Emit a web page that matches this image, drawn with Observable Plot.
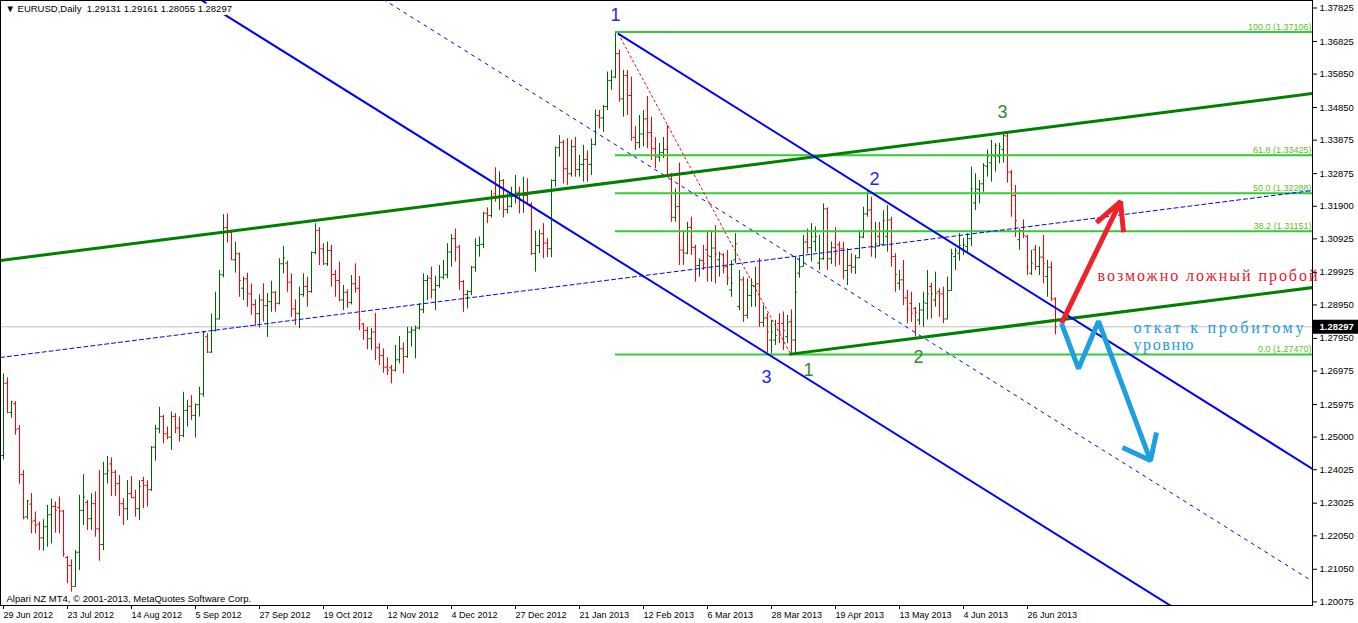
<!DOCTYPE html>
<html><head><meta charset="utf-8">
<script src="https://cdn.jsdelivr.net/npm/d3@7"></script>
<script src="https://cdn.jsdelivr.net/npm/@observablehq/plot@0.6"></script>
<style>body{margin:0;background:#fff}</style>
</head><body><div id="chart"></div>
<script>
// ---- daily OHLC bars (EURUSD, 29 Jun 2012 .. Jul 2013) ----
const barOpen = [
1.2445,1.2661,1.2574,1.2600,1.2525,1.2388,1.2262,1.2300,1.2250,1.2240,
1.2199,1.2232,1.2268,1.2293,1.2290,1.2279,1.2140,1.2116,1.2054,1.2156,
1.2281,1.2305,1.2256,1.2301,1.2226,1.2179,1.2390,1.2420,1.2395,1.2361,
1.2301,1.2286,1.2331,1.2319,1.2286,1.2370,1.2356,1.2343,1.2470,1.2525,
1.2562,1.2510,1.2500,1.2562,1.2527,1.2505,1.2580,1.2592,1.2565,1.2597,
1.2629,1.2800,1.2754,1.2819,1.2853,1.2985,1.3126,1.3112,1.3030,1.3048,
1.2945,1.2973,1.2928,1.2896,1.2869,1.2910,1.2893,1.2905,1.2933,1.2900,
1.3018,1.3020,1.2963,1.2883,1.2870,1.2926,1.2950,1.2935,1.3052,1.3118,
1.3063,1.3018,1.3058,1.2986,1.2968,1.2910,1.2933,1.2902,1.2958,1.2945,
1.2838,1.2819,1.2794,1.2814,1.2767,1.2744,1.2709,1.2707,1.2700,1.2731,
1.2764,1.2741,1.2814,1.2820,1.2826,1.2881,1.2968,1.2975,1.2940,1.2953,
1.2978,1.2985,1.3053,1.3093,1.3068,1.2965,1.2926,1.2935,1.3008,1.3073,
1.3076,1.3169,1.3162,1.3227,1.3215,1.3267,1.3180,1.3190,1.3222,1.3232,
1.3207,1.3222,1.3195,1.3049,1.3073,1.3108,1.3080,1.3063,1.3267,1.3365,
1.3381,1.3302,1.3287,1.3368,1.3300,1.3315,1.3330,1.3315,1.3375,1.3461,
1.3454,1.3488,1.3566,1.3576,1.3646,1.3511,1.3581,1.3521,1.3396,1.3380,
1.3406,1.3451,1.3410,1.3362,1.3337,1.3351,1.3360,1.3285,1.3157,1.3189,
1.3059,1.3050,1.3127,1.3067,1.3013,1.3028,1.3060,1.3040,1.3065,1.3030,
1.3045,1.3010,1.2940,1.3030,1.2890,1.2970,1.2864,1.2923,1.2950,1.2958,
1.2843,1.2856,1.2790,1.2790,1.2840,1.2840,1.2800,1.2845,1.2790,1.2990,
1.3010,1.3083,1.3066,1.3085,1.3020,1.3033,1.3182,1.3033,1.3066,1.3075,
1.3063,1.2998,1.3013,1.3008,1.3036,1.3098,1.3167,1.3179,1.3068,1.3100,
1.3076,1.3100,1.3149,1.3040,1.2960,1.2970,1.2916,1.2900,1.2885,1.2850,
1.2880,1.2900,1.2950,1.2910,1.2935,1.2928,1.2853,1.2938,1.3040,1.3050,
1.3060,1.3070,1.3093,1.3200,1.3240,1.3257,1.3310,1.3320,1.3340,1.3340,
1.3360,1.3400,1.3292,1.3222,1.3090,1.3117,1.3100,1.2990,1.3060,1.3010,
1.3038,1.2980,1.3008,1.29131];
const barHigh = [
1.2689,1.2677,1.2607,1.2606,1.2534,1.2400,1.2311,1.2331,1.2276,1.2246,
1.2253,1.2296,1.2314,1.2306,1.2321,1.2281,1.2143,1.2133,1.2161,1.2326,
1.2388,1.2311,1.2331,1.2336,1.2400,1.2425,1.2442,1.2438,1.2400,1.2385,
1.2316,1.2370,1.2382,1.2341,1.2370,1.2380,1.2370,1.2472,1.2535,1.2589,
1.2565,1.2530,1.2575,1.2570,1.2560,1.2634,1.2610,1.2624,1.2599,1.2649,
1.2814,1.2809,1.2868,1.2933,1.2998,1.3165,1.3167,1.3115,1.3083,1.3050,
1.2978,1.2990,1.2958,1.2910,1.2925,1.2958,1.2929,1.2966,1.2935,1.3033,
1.3070,1.3026,1.2988,1.2910,1.2948,1.2988,1.2978,1.3053,1.3138,1.3126,
1.3078,1.3083,1.3073,1.2998,1.3023,1.2953,1.2940,1.2983,1.3018,1.2980,
1.2840,1.2828,1.2824,1.2870,1.2779,1.2764,1.2737,1.2714,1.2774,1.2801,
1.2781,1.2828,1.2828,1.2832,1.2899,1.2988,1.2983,1.3008,1.2981,1.3013,
1.3028,1.3078,1.3105,1.3122,1.3073,1.2968,1.2938,1.3010,1.3093,1.3098,
1.3172,1.3185,1.3237,1.3305,1.3293,1.3270,1.3227,1.3247,1.3282,1.3247,
1.3277,1.3272,1.3201,1.3115,1.3119,1.3138,1.3093,1.3269,1.3367,1.3401,
1.3387,1.3392,1.3387,1.3396,1.3342,1.3372,1.3355,1.3391,1.3478,1.3476,
1.3491,1.3591,1.3596,1.3711,1.3657,1.3596,1.3596,1.3576,1.3428,1.3461,
1.3476,1.3518,1.3456,1.3395,1.3378,1.3396,1.3431,1.3288,1.3242,1.3319,
1.3117,1.3142,1.3157,1.3073,1.3033,1.3073,1.3117,1.3117,1.3132,1.3053,
1.3048,1.3058,1.3028,1.3108,1.2998,1.2978,1.2973,1.2973,1.3008,1.3033,
1.2893,1.2869,1.2849,1.2849,1.2869,1.2874,1.2864,1.2880,1.3038,1.3038,
1.3103,1.3122,1.3138,1.3128,1.3103,1.3197,1.3185,1.3083,1.3126,1.3083,
1.3083,1.3063,1.3048,1.3043,1.3117,1.3187,1.3237,1.3217,1.3142,1.3142,
1.3177,1.3192,1.3157,1.3048,1.2998,1.3028,1.2938,1.2933,1.2888,1.2900,
1.2933,1.2998,1.2960,1.2993,1.2943,1.2948,1.2978,1.3061,1.3065,1.3108,
1.3093,1.3108,1.3307,1.3287,1.3267,1.3317,1.3358,1.3387,1.3377,1.3378,
1.3408,1.3411,1.3297,1.3252,1.3122,1.3149,1.3103,1.3058,1.3073,1.3068,
1.3103,1.3028,1.3023,1.29161];
const barLow = [
1.2432,1.2570,1.2556,1.2506,1.2359,1.2253,1.2253,1.2211,1.2211,1.2161,
1.2159,1.2171,1.2181,1.2213,1.2211,1.2141,1.2062,1.2037,1.2051,1.2101,
1.2236,1.2221,1.2221,1.2201,1.2129,1.2161,1.2360,1.2322,1.2322,1.2263,
1.2236,1.2251,1.2316,1.2261,1.2251,1.2286,1.2291,1.2338,1.2428,1.2510,
1.2480,1.2492,1.2460,1.2510,1.2485,1.2498,1.2530,1.2550,1.2497,1.2560,
1.2619,1.2750,1.2750,1.2814,1.2850,1.2976,1.3080,1.3028,1.2990,1.2918,
1.2908,1.2888,1.2864,1.2831,1.2826,1.2844,1.2798,1.2873,1.2873,1.2895,
1.2988,1.2933,1.2858,1.2834,1.2824,1.2918,1.2888,1.2930,1.3045,1.3013,
1.3013,1.3010,1.2948,1.2918,1.2905,1.2878,1.2885,1.2895,1.2930,1.2818,
1.2789,1.2761,1.2759,1.2729,1.2714,1.2691,1.2684,1.2659,1.2695,1.2719,
1.2689,1.2735,1.2769,1.2734,1.2820,1.2869,1.2908,1.2913,1.2878,1.2945,
1.2970,1.2973,1.3008,1.3023,1.2938,1.2873,1.2883,1.2923,1.2993,1.3038,
1.3063,1.3138,1.3155,1.3202,1.3177,1.3155,1.3167,1.3185,1.3197,1.3167,
1.3169,1.3192,1.3043,1.2993,1.3048,1.3033,1.3036,1.3036,1.3247,1.3337,
1.3257,1.3252,1.3277,1.3277,1.3277,1.3262,1.3262,1.3282,1.3370,1.3421,
1.3411,1.3476,1.3536,1.3571,1.3501,1.3456,1.3461,1.3384,1.3357,1.3362,
1.3367,1.3362,1.3327,1.3302,1.3322,1.3332,1.3277,1.3142,1.3142,1.3013,
1.3013,1.3045,1.3043,1.2963,1.2978,1.2998,1.2963,1.2963,1.2958,1.2978,
1.2988,1.2953,1.2918,1.3018,1.2878,1.2843,1.2853,1.2888,1.2888,1.2828,
1.2828,1.2751,1.2749,1.2774,1.2779,1.2759,1.2779,1.2747,1.2749,1.2975,
1.3008,1.3048,1.3023,1.3053,1.2998,1.3028,1.2998,1.3016,1.3008,1.3013,
1.2970,1.2953,1.2988,1.2986,1.3033,1.3093,1.3157,1.3038,1.3033,1.3068,
1.3073,1.3053,1.3008,1.2933,1.2938,1.2893,1.2839,1.2843,1.2799,1.2834,
1.2828,1.2850,1.2853,1.2888,1.2858,1.2839,1.2850,1.2936,1.2998,1.3026,
1.3043,1.3048,1.3070,1.3177,1.3197,1.3232,1.3277,1.3262,1.3292,1.3317,
1.3319,1.3259,1.3157,1.3097,1.3058,1.3093,1.2983,1.2983,1.2998,1.2983,
1.2958,1.2918,1.2905,1.28055];
const barClose = [
1.2661,1.2574,1.2606,1.2522,1.2388,1.2259,1.2309,1.2247,1.2236,1.2199,
1.2232,1.2268,1.2293,1.2281,1.2279,1.2151,1.2116,1.2054,1.2156,1.2281,
1.2321,1.2256,1.2301,1.2226,1.2179,1.2390,1.2400,1.2395,1.2361,1.2301,
1.2286,1.2331,1.2319,1.2286,1.2352,1.2356,1.2343,1.2470,1.2525,1.2562,
1.2510,1.2500,1.2562,1.2527,1.2505,1.2580,1.2592,1.2565,1.2597,1.2629,
1.2813,1.2754,1.2819,1.2853,1.2985,1.3126,1.3112,1.3030,1.3048,1.2968,
1.2973,1.2928,1.2896,1.2869,1.2910,1.2893,1.2905,1.2933,1.2900,1.3018,
1.3036,1.2963,1.2883,1.2870,1.2926,1.2950,1.2935,1.3052,1.3118,1.3063,
1.3018,1.3058,1.2986,1.2968,1.2910,1.2933,1.2902,1.2958,1.2945,1.2850,
1.2819,1.2794,1.2814,1.2767,1.2744,1.2709,1.2700,1.2700,1.2731,1.2764,
1.2741,1.2814,1.2820,1.2826,1.2881,1.2968,1.2975,1.2940,1.2953,1.2978,
1.2985,1.3053,1.3093,1.3068,1.2965,1.2926,1.2935,1.3008,1.3073,1.3076,
1.3169,1.3162,1.3220,1.3215,1.3267,1.3180,1.3190,1.3222,1.3232,1.3207,
1.3222,1.3195,1.3049,1.3073,1.3108,1.3080,1.3063,1.3267,1.3365,1.3381,
1.3302,1.3287,1.3368,1.3300,1.3315,1.3330,1.3315,1.3375,1.3461,1.3454,
1.3488,1.3566,1.3576,1.3646,1.3511,1.3581,1.3521,1.3396,1.3380,1.3406,
1.3451,1.3410,1.3362,1.3337,1.3351,1.3360,1.3285,1.3157,1.3189,1.3059,
1.3050,1.3127,1.3067,1.3013,1.3028,1.3018,1.3043,1.3065,1.3048,1.3048,
1.3008,1.2975,1.2960,1.3078,1.2970,1.2864,1.2923,1.2953,1.2958,1.2843,
1.2856,1.2814,1.2814,1.2804,1.2814,1.2819,1.2843,1.2790,1.2933,1.3008,
1.3083,1.3066,1.3099,1.3099,1.3033,1.3182,1.3033,1.3066,1.3048,1.3063,
1.2998,1.3013,1.3008,1.3036,1.3098,1.3167,1.3179,1.3068,1.3078,1.3076,
1.3147,1.3149,1.3040,1.2986,1.2970,1.2916,1.2883,1.2870,1.2873,1.2880,
1.2903,1.2928,1.2928,1.2930,1.2928,1.2853,1.2938,1.3048,1.3058,1.3073,
1.3075,1.3093,1.3242,1.3242,1.3257,1.3312,1.3339,1.3345,1.3372,1.3367,
1.3401,1.3292,1.3222,1.3147,1.3117,1.3103,1.3008,1.3020,1.3010,1.3038,
1.3018,1.3008,1.2913,1.28297];

// ---- axes ----
const dateTickIndex = [0,16,32,48,64,80,96,112,128,144,160,176,192,208,224,240,256];
const dateLabels = ["29 Jun 2012","23 Jul 2012","14 Aug 2012","5 Sep 2012","27 Sep 2012","19 Oct 2012","12 Nov 2012","4 Dec 2012","27 Dec 2012","21 Jan 2013","12 Feb 2013","6 Mar 2013","28 Mar 2013","19 Apr 2013","13 May 2013","4 Jun 2013","26 Jun 2013"];
const priceTicks = [1.37825,1.36825,1.35850,1.34850,1.33875,1.32875,1.31900,1.30925,1.29925,1.28950,1.27950,1.26975,1.25975,1.25000,1.24025,1.23025,1.22050,1.21050,1.20075];
const lastPrice = 1.28297;
const titleText = "▼ EURUSD,Daily  1.29131 1.29161 1.28055 1.28297";
const copyrightText = "Alpari NZ MT4, © 2001-2013, MetaQuotes Software Corp.";

// ---- Fibonacci retracement ----
const fibLevels = [1.37106, 1.33425, 1.32288, 1.31151, 1.27470];
const fibPercents = ["100.0", "61.8", "50.0", "38.2", "0.0"];
const fibStartBar = 153;

// ---- drawn objects: anchor points [bar index, price] ----
const blueChannelUpper = [[153.75, 1.3705], [327.25, 1.2405]];
const blueChannelLower = [[48, 1.3817], [293, 1.1987]];
const blueChannelMid = [[95, 1.3808], [327.25, 1.2069]];
const blueDashedRising = [[-0.75, 1.2738], [327.25, 1.3237]];
const greenUpper = [[-0.75, 1.3028], [327.25, 1.3527]];
const greenLower = [[196.75, 1.2748], [327.25, 1.2947]];
const redDotted = [[153.75, 1.3705], [196.75, 1.2749]];
const redArrowShaft = [[264.5, 1.2840], [279.25, 1.3204]];
const redArrowHead = [[273.25, 1.3141], [279.25, 1.3204], [280, 1.3112]];
const blueZigzag = [[264.5, 1.2840], [268.75, 1.2705], [273.75, 1.2846], [286.75, 1.2430]];
const blueZigzagHead = [[279.75, 1.2469], [286.75, 1.2430], [288.25, 1.2514]];

// ---- wave labels ----
const blueWaveText = ["1", "2", "3"];
const blueWaveBar = [153, 217.75, 190.75];
const blueWavePrice = [1.3760, 1.3270, 1.2678];
const greenWaveText = ["1", "2", "3"];
const greenWaveBar = [201.25, 228.75, 249.75];
const greenWavePrice = [1.2699, 1.2738, 1.3470];

// ---- notes ----
const noteRed = [{text: "возможно ложный пробой", bar: 273.5, price: 1.29652}];
const noteBlue = [
  {text: "откат к пробитому", bar: 282.5, price: 1.28107},
  {text: "уровню", bar: 282.5, price: 1.27589}
];

// ---------------------------------------------------------------
const xDomain = [-0.75, 327.25];
const yDomain = [1.199674, 1.380491];
const UP = "#006400", DOWN = "#ff0000";
const bars = d3.range(barClose.length).map(i => ({i, o: barOpen[i], h: barHigh[i], l: barLow[i], c: barClose[i]}));
const col = d => d.c >= d.o ? UP : DOWN;
const pts = a => a.map(([i, p]) => ({i, p}));
const seg = (a, opts) => Plot.line(pts(a), {x: "i", y: "p", clip: true, ...opts});
const dateByIdx = new Map(dateTickIndex.map((d, k) => [d, dateLabels[k]]));
const waves = (t, b, p) => t.map((s, k) => ({s, i: b[k], p: p[k]}));
const noteFont = "'Liberation Serif', 'Times New Roman', serif";

const chart = Plot.plot({
  width: 1358, height: 623,
  marginTop: 0, marginLeft: 0, marginRight: 46, marginBottom: 18,
  x: {domain: xDomain, axis: null},
  y: {domain: yDomain, axis: null},
  color: {type: "identity"},
  style: {fontFamily: "'Liberation Sans', Arial, sans-serif", fontSize: "10px", background: "#fff", color: "#000", overflow: "visible"},
  marks: [
    Plot.ruleY([lastPrice], {stroke: "#c0c0c0"}),
    Plot.ruleX(bars, {x: "i", y1: "l", y2: "h", stroke: col}),
    Plot.ruleY(bars, {y: "o", x1: d => d.i - 0.45, x2: "i", stroke: col}),
    Plot.ruleY(bars, {y: "c", x1: "i", x2: d => d.i + 0.45, stroke: col}),
    // Fibonacci
    Plot.ruleY(fibLevels, {y: d => d, x1: fibStartBar, x2: xDomain[1], stroke: "#32cd32", strokeWidth: 2}),
    Plot.text(fibLevels, {x: xDomain[1], y: d => d, text: (d, k) => `${fibPercents[k]} (${d.toFixed(5)})`,
      textAnchor: "end", lineAnchor: "bottom", dx: -1, dy: -2, fill: "#5cbf2a", fontSize: 9}),
    // trend lines
    seg(blueDashedRising, {stroke: "#0000ff", strokeWidth: 1, strokeDasharray: "4,3"}),
    seg(blueChannelMid, {stroke: "#0000ff", strokeWidth: 1, strokeDasharray: "3,5"}),
    seg(redDotted, {stroke: "#ff0000", strokeWidth: 1, strokeDasharray: "2,3"}),
    seg(greenUpper, {stroke: "#008000", strokeWidth: 3}),
    seg(greenLower, {stroke: "#008000", strokeWidth: 3}),
    seg(blueChannelUpper, {stroke: "#0000ff", strokeWidth: 2}),
    seg(blueChannelLower, {stroke: "#0000ff", strokeWidth: 2}),
    // arrows
    seg(redArrowShaft, {stroke: "#ee2229", strokeWidth: 5, strokeLinecap: "butt"}),
    seg(redArrowHead, {stroke: "#ee2229", strokeWidth: 5, strokeLinejoin: "miter", strokeLinecap: "butt"}),
    seg(blueZigzag, {stroke: "#1e9fe0", strokeWidth: 5, strokeLinejoin: "miter", strokeLinecap: "butt"}),
    seg(blueZigzagHead, {stroke: "#1e9fe0", strokeWidth: 5, strokeLinejoin: "miter", strokeLinecap: "butt"}),
    // wave labels
    Plot.text(waves(blueWaveText, blueWaveBar, blueWavePrice), {x: "i", y: "p", text: "s", fill: "#2424ff", fontSize: 18}),
    Plot.text(waves(greenWaveText, greenWaveBar, greenWavePrice), {x: "i", y: "p", text: "s", fill: "#2e8b2e", fontSize: 18}),
    // notes
    Plot.text(noteRed, {x: "bar", y: "price", text: "text", textAnchor: "start", lineAnchor: "bottom",
      fill: "#e8202a", fontSize: 16, fontFamily: noteFont, clip: false}),
    Plot.text(noteBlue, {x: "bar", y: "price", text: "text", textAnchor: "start", lineAnchor: "bottom",
      fill: "#1e9be0", fontSize: 16, fontFamily: noteFont, clip: false}),
    // title and copyright
    Plot.text([titleText], {frameAnchor: "top-left", dx: 5, dy: 5, textAnchor: "start", lineAnchor: "top",
      fontSize: 9.5, fill: "#000", stroke: "#fff", strokeWidth: 6}),
    Plot.text([copyrightText], {frameAnchor: "bottom-left", dx: 6, dy: -4, textAnchor: "start", lineAnchor: "bottom",
      fontSize: 9.5, fill: "#000"}),
    // frame and axes
    Plot.frame({stroke: "#000"}),
    Plot.axisY(priceTicks, {anchor: "right", tickFormat: d => d.toFixed(5), tickSize: 4, tickPadding: 3, fontSize: 9.5, label: null}),
    Plot.axisX(dateTickIndex, {anchor: "bottom", tickFormat: d => dateByIdx.get(d), textAnchor: "start",
      tickSize: 4, tickPadding: 2, fontSize: 9, label: null}),
    // current price marker
    Plot.ruleY([lastPrice], {x1: xDomain[1], x2: xDomain[1], insetLeft: 1, insetRight: -46, stroke: "#000", strokeWidth: 14, clip: false}),
    Plot.text([lastPrice], {x: xDomain[1], y: d => d, text: d => d.toFixed(5), textAnchor: "start", dx: 7,
      fill: "#fff", fontWeight: "bold", fontSize: 9.5})
  ]
});
// spread the note lettering to the typewriter-like pitch of the original (about 10px per character)
const noteTexts = new Set([...noteRed, ...noteBlue].map(d => d.text));
d3.select(chart).selectAll("text").each(function() {
  if (!noteTexts.has(this.textContent)) return;
  this.setAttribute("textLength", this.textContent.length * 10);
  this.setAttribute("lengthAdjust", "spacing");
});
document.getElementById("chart").append(chart);
</script>
</body></html>
